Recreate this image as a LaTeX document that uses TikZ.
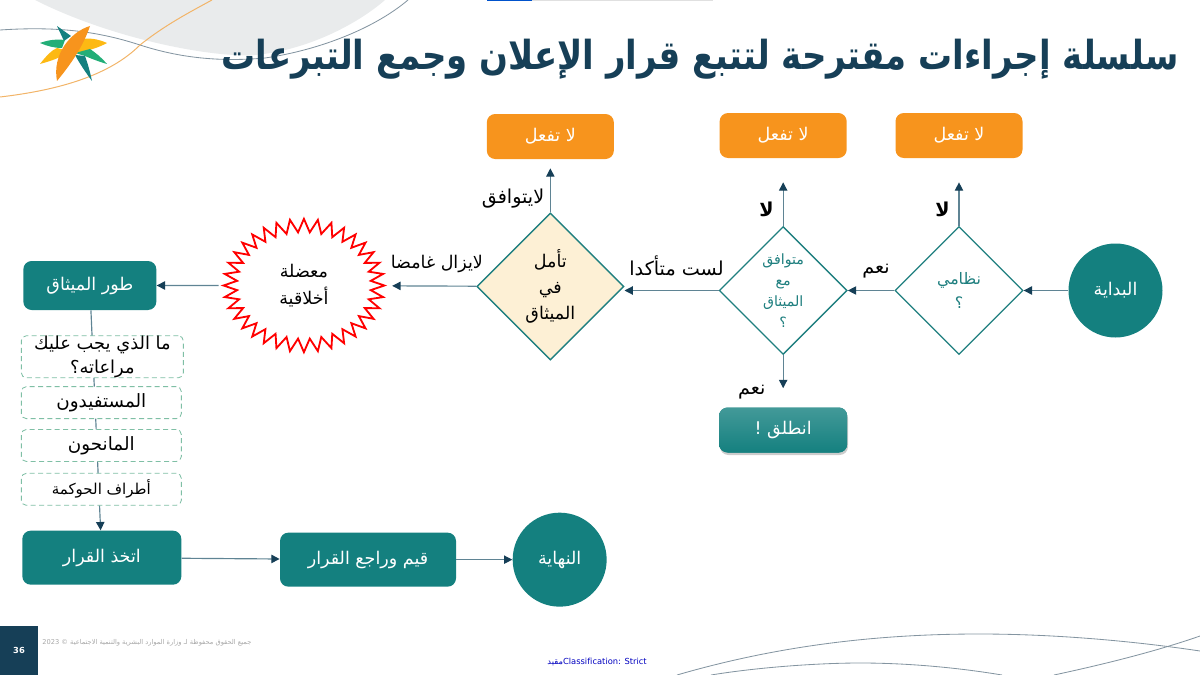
\documentclass[tikz,border=0pt]{standalone}
\usepackage{fontspec}
\setmainfont{DejaVu Sans}
\newfontfamily\arabicfont[Script=Arabic]{DejaVu Sans}
\TeXXeTstate=1
\usetikzlibrary{positioning, shapes.geometric, shapes.symbols, arrows.meta, shadows}

\definecolor{tealfill}{HTML}{14807F}
\definecolor{tealedge}{HTML}{1F7F7F}
\definecolor{orangefill}{HTML}{F7941D}
\definecolor{creamfill}{HTML}{FDF0D5}
\definecolor{navy}{HTML}{163F57}
\definecolor{flowline}{HTML}{5F8494}
\definecolor{curvegray}{HTML}{8495A1}
\definecolor{curveorange}{HTML}{F2B468}
\definecolor{dashgreen}{HTML}{7FBFA5}
\definecolor{palegray}{HTML}{E9EBEC}
\definecolor{logogreen}{HTML}{23AE78}
\definecolor{logoyellow}{HTML}{FDB913}

\newcommand{\ar}[1]{\beginR #1\endR}
\newcommand{\arsize}[2]{\arabicfont\fontsize{#1}{#2}\selectfont}

\begin{document}
\begin{tikzpicture}[
    x=0.6pt, y=-0.6pt,
    tealbox/.style={fill=tealfill, text=white, align=center, rounded corners=5pt, minimum width=79.8pt, minimum height=29.4pt, font=\arsize{10.5}{13}},
    tealdisc/.style={circle, fill=tealfill, text=white, minimum size=56.4pt, inner sep=0pt, font=\arsize{10.5}{13}},
    stopbox/.style={fill=orangefill, text=white, rounded corners=5pt, minimum width=76.2pt, minimum height=27pt, font=\arsize{10.5}{13}},
    question/.style={diamond, draw=tealedge, line width=0.8pt, fill=white, minimum size=76.8pt, inner sep=0pt},
    qtext/.style={text=tealedge, align=center, font=\arsize{8.5}{12.6}},
    note/.style={draw=dashgreen, densely dashed, line width=0.5pt, fill=white, rounded corners=3pt, minimum width=96pt, minimum height=19.2pt, inner sep=0pt, align=center, font=\arsize{11}{14.5}},
    flow/.style={-{Triangle[length=5pt, width=5pt, color=navy]}, draw=flowline, line width=0.7pt},
    lbl/.style={text=black, font=\arsize{11.5}{14}}
]
    \useasboundingbox (0,0) rectangle (1200,675);

    % Background curves
    \fill[palegray] (35,0) .. controls (110,38) and (210,58) .. (255,55) .. controls (310,50) and (360,22) .. (385,0) -- cycle;
    \draw[curvegray, line width=0.5pt] (0,30) .. controls (60,26) and (100,32) .. (140,45) .. controls (180,58) and (220,62) .. (265,58) .. controls (320,50) and (375,28) .. (408,0);
    \draw[curveorange, line width=0.6pt] (0,97) .. controls (60,90) and (110,75) .. (140,45) .. controls (165,25) and (190,12) .. (212,0);
    \draw[curvegray, line width=0.5pt] (677,675) .. controls (780,645) and (880,634) .. (979,634) .. controls (1060,634) and (1140,642) .. (1200,651);
    \draw[curvegray, line width=0.5pt] (711,675) .. controls (760,667) and (820,663) .. (860,663) .. controls (910,663) and (960,668) .. (1002,675);
    \draw[curvegray, line width=0.5pt] (1054,675) .. controls (1110,663) and (1160,650) .. (1200,636);
    \fill[blue!60!cyan!80!black] (487,0) rectangle (532,1.5);
    \fill[black!12] (532,0) rectangle (713,1.5);

    % Logo
    \fill[tealfill] (57,26) -- (71,36) -- (64,41) -- cycle;
    \fill[logogreen] (40,43) .. controls (48,40) and (56,39) .. (65,40) -- (62,48) .. controls (54,48) and (47,46) .. (40,43) -- cycle;
    \fill[logoyellow] (40,64) .. controls (46,56) and (52,50) .. (57,48) -- (65,50) -- (60,57) .. controls (54,60) and (47,62) .. (40,64) -- cycle;
    \fill[logoyellow] (107,43) .. controls (98,39) and (88,37) .. (78,40) -- (73,53) .. controls (85,52) and (98,48) .. (107,43) -- cycle;
    \fill[logogreen] (107,64) .. controls (102,58) and (96,53) .. (90,49) -- (75,53) -- (85,56) .. controls (92,59) and (100,62) .. (107,64) -- cycle;
    \fill[tealfill] (92,81) .. controls (90,72) and (88,64) .. (85,56) -- (75,55) .. controls (80,64) and (86,73) .. (92,81) -- cycle;
    \fill[orangefill] (90,26) .. controls (70,32) and (52,55) .. (57,81) .. controls (66,70) and (82,50) .. (90,26) -- cycle;

    % Title
    \node[text=navy, font=\arabicfont\bfseries\fontsize{24}{30}\selectfont, anchor=east, inner sep=0pt] (title) at (1179,59) {\scalebox{0.848}[1]{\ar{سلسلة إجراءات مقترحة لتتبع قرار الإعلان وجمع التبرعات}}};

    % Main row
    \node[tealdisc] (start) at (1115.5,290.5) {\ar{البداية}};
    \node[question, left=26.7pt of start] (q1) {};
    \node[qtext, font=\arsize{9.5}{14.4}] (q1text) at (q1) {\ar{نظامي}\\\ar{؟}};
    \node[question, left=27.9pt of q1] (q2) {};
    \node[qtext] (q2text) at (q2) {\ar{متوافق}\\\ar{مع}\\\ar{الميثاق}\\\ar{؟}};
    \node[question, fill=creamfill, minimum size=88.2pt, left=56.4pt of q2, yshift=2.4pt] (reflect) {};
    \node[qtext, text=black, font=\arsize{10.5}{15.5}] (reflecttext) at (reflect) {\ar{تأمل}\\\ar{في}\\\ar{الميثاق}};
    \node[starburst, draw=red, fill=white, line width=1.1pt, starburst points=36, starburst point height=8pt, random starburst=0, minimum width=96.5pt, minimum height=80pt, inner sep=0pt, align=center, font=\arsize{10.5}{16}, left=53.4pt of reflect, yshift=0.6pt] (dilemma) {\ar{معضلة}\\\ar{أخلاقية}};
    \node[tealbox, left=38.4pt of dilemma] (charter) {\ar{طور الميثاق}};

    % Outcome boxes
    \node[stopbox, above=40.5pt of q1] (stopa) {\ar{لا تفعل}};
    \node[stopbox, above=40.5pt of q2] (stopb) {\ar{لا تفعل}};
    \node[stopbox, above=31.8pt of reflect] (stopc) {\ar{لا تفعل}};
    \node[tealbox, minimum width=76.8pt, minimum height=27pt, top color=tealfill!80!white, bottom color=tealfill, drop shadow={shadow xshift=0.5pt, shadow yshift=-1.5pt, opacity=0.4}, below=31.2pt of q2] (go) {\ar{انطلق !}};

    % Bottom row
    \node[tealbox, minimum width=95.4pt, minimum height=32.4pt, below=132pt of charter, xshift=7.2pt] (decide) {\ar{اتخذ القرار}};
    \node[tealbox, minimum width=105.6pt, minimum height=32.4pt, right=58.8pt of decide, yshift=-1.2pt] (review) {\ar{قيم وراجع القرار}};
    \node[tealdisc, right=33.6pt of review] (finish) {\ar{النهاية}};

    % Line down the left column, the notes sit on top of it
    \draw[flow] (charter) -- (decide);
    \node[note, font=\arsize{10.7}{14.5}, minimum width=97.2pt, minimum height=25.2pt, below=15pt of charter, xshift=7.5pt] (notea) {\ar{ما الذي يجب عليك}\\\ar{مراعاته؟}};
    \node[note, below=4.8pt of notea, xshift=-0.6pt] (noteb) {\ar{المستفيدون}};
    \node[note, below=6pt of noteb] (notec) {\ar{المانحون}};
    \node[note, font=\arsize{9}{12}, below=6.6pt of notec] (noted) {\ar{أطراف الحوكمة}};

    % Connectors
    \draw[flow] (start) -- (q1);
    \draw[flow] (q1) -- node[lbl, above=4pt, xshift=3pt] (yesa) {\ar{نعم}} (q2);
    \draw[flow] (q2.west) -- node[lbl, above=5pt, xshift=3pt] (unsure) {\ar{لست متأكدا}} (q2.west -| reflect.east);
    \draw[flow, shorten >=3.6pt] (reflect) -- node[lbl, font=\arsize{10.5}{14}, above=4pt, xshift=3.3pt] (vague) {\ar{لايزال غامضا}} (dilemma);
    \draw[flow, shorten <=1.2pt] (dilemma) -- (charter);
    \draw[flow] (decide) -- (review);
    \draw[flow] (review) -- (finish);
    \draw[flow, shorten >=14.4pt] (q1) -- node[lbl, font=\arabicfont\bfseries\fontsize{11.5}{14}\selectfont, left=2pt, yshift=-12.6pt, pos=0.55] (noa) {\ar{لا}} (stopa);
    \draw[flow, shorten >=14.4pt] (q2) -- node[lbl, font=\arabicfont\bfseries\fontsize{11.5}{14}\selectfont, left=2pt, yshift=-12.6pt, pos=0.55] (nob) {\ar{لا}} (stopb);
    \draw[flow, shorten >=5.4pt] (reflect) -- node[lbl, left=0pt, yshift=-7.5pt] (refuse) {\ar{لايتوافق}} (stopc);
    \draw[flow, shorten >=11.4pt] (q2) -- node[lbl, left=7pt, yshift=-0.4pt, pos=0.7] (yesb) {\ar{نعم}} (go);

    % Footer
    \fill[navy] (0,626) rectangle (38,675);
    \node[text=white, font=\bfseries\fontsize{5}{6}\selectfont] (page) at (19,650) {36};
    \node[text=black!35, font=\arsize{4}{5}, anchor=west, inner sep=0pt] (rights) at (42,643) {\ar{جميع الحقوق محفوظة لـ وزارة الموارد البشرية والتنمية الاجتماعية © \beginL 2023\endL{}}};
    \node[text=blue!75!black, font=\arsize{5}{6}, anchor=east, inner sep=0pt] (class) at (647,662) {\ar{مقيد}Classification: Strict};
\end{tikzpicture}
\end{document}
